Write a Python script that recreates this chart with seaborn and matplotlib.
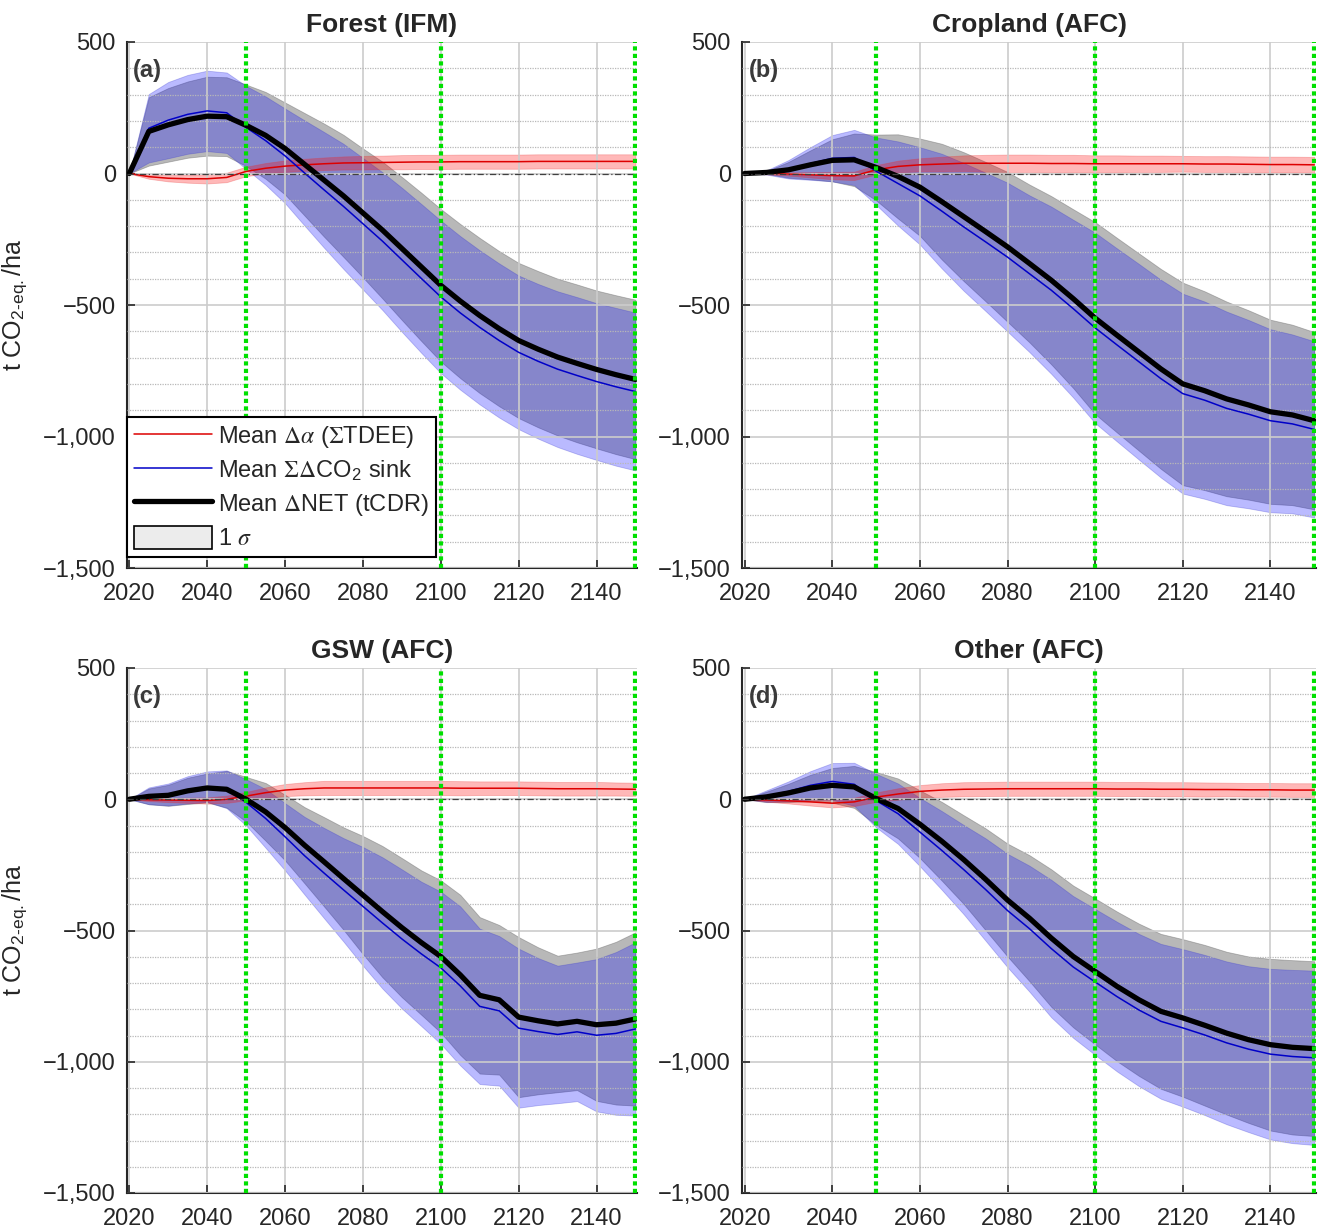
import pandas as pd
import seaborn as sns
import matplotlib.pyplot as plt
from matplotlib.lines import Line2D
from matplotlib.patches import Patch
from matplotlib.ticker import MultipleLocator, FuncFormatter

years = list(range(2020, 2151, 5))

titles = ["Forest (IFM)", "Cropland (AFC)", "GSW (AFC)", "Other (AFC)"]
tags = ["(a)", "(b)", "(c)", "(d)"]

# Forest (IFM)
forest_red = [0, -12, -18, -20, -20, -15, 8, 20, 28, 33, 37, 40, 41, 42, 43, 44, 44, 45, 45, 45, 45, 46, 46, 46, 46, 46, 46]
forest_red_sd = [0, 8, 12, 15, 18, 18, 18, 20, 22, 23, 24, 25, 26, 26, 27, 27, 27, 27, 27, 27, 27, 27, 27, 27, 27, 27, 27]
forest_blue = [0, 172, 203, 225, 238, 231, 175, 125, 67, 2, -62, -125, -191, -257, -328, -399, -469, -530, -585, -635, -680, -714, -744, -768, -791, -811, -829]
forest_blue_sd = [0, 130, 145, 150, 153, 153, 158, 168, 180, 200, 220, 238, 250, 262, 274, 283, 290, 292, 293, 293, 292, 294, 296, 298, 298, 300, 300]
forest_net = [0, 160, 185, 205, 218, 216, 183, 145, 95, 35, -25, -85, -150, -215, -285, -355, -425, -485, -540, -590, -635, -668, -698, -722, -745, -765, -783]
forest_net_sd = [0, 130, 140, 145, 150, 150, 155, 165, 175, 195, 215, 232, 245, 260, 272, 282, 290, 293, 295, 295, 295, 297, 298, 300, 300, 302, 303]

# Cropland (AFC)
crop_red = [0, 0, -2, -5, -8, -9, 14, 27, 33, 36, 39, 39, 39, 39, 38, 38, 37, 37, 37, 37, 37, 36, 36, 35, 34, 34, 33]
crop_red_sd = [0, 3, 6, 10, 14, 16, 18, 22, 25, 28, 30, 32, 33, 33, 33, 33, 32, 32, 31, 31, 30, 30, 30, 30, 30, 30, 30]
crop_blue = [0, 4, 16, 38, 58, 61, 9, -38, -85, -143, -203, -260, -318, -381, -444, -514, -587, -652, -716, -780, -837, -862, -893, -915, -940, -952, -973]
crop_blue_sd = [0, 8, 35, 62, 88, 105, 128, 160, 185, 218, 243, 263, 283, 298, 318, 338, 362, 367, 372, 376, 380, 375, 368, 358, 348, 340, 335]
crop_net = [0, 4, 14, 33, 50, 52, 23, -11, -52, -107, -164, -221, -279, -342, -406, -476, -550, -615, -679, -743, -800, -826, -857, -880, -906, -918, -940]
crop_net_sd = [0, 5, 30, 55, 80, 100, 125, 160, 185, 220, 245, 265, 285, 300, 320, 340, 365, 370, 375, 380, 385, 378, 370, 360, 350, 343, 337]

# GSW (AFC)
gsw_red = [0, -2, -3, -4, -5, 0, 12, 25, 35, 40, 43, 43, 43, 43, 43, 43, 43, 42, 42, 42, 42, 41, 40, 40, 40, 39, 38]
gsw_red_sd = [0, 5, 8, 10, 12, 14, 16, 20, 23, 25, 27, 27, 27, 27, 27, 27, 27, 27, 26, 26, 26, 26, 26, 26, 26, 25, 25]
gsw_blue = [0, 13, 18, 36, 48, 38, -12, -73, -143, -215, -281, -345, -408, -471, -532, -589, -642, -711, -789, -806, -872, -885, -896, -886, -899, -892, -875]
gsw_blue_sd = [0, 32, 42, 52, 58, 72, 88, 112, 128, 148, 172, 197, 226, 250, 265, 275, 290, 303, 296, 285, 303, 280, 262, 264, 290, 310, 330]
gsw_net = [0, 11, 15, 32, 43, 38, 0, -48, -108, -175, -238, -302, -365, -428, -489, -546, -599, -669, -747, -764, -830, -844, -856, -846, -859, -853, -837]
gsw_net_sd = [0, 30, 40, 50, 55, 70, 85, 110, 125, 145, 170, 195, 225, 250, 265, 275, 290, 305, 298, 285, 305, 280, 260, 262, 290, 310, 330]

# Other (AFC)
other_red = [0, -3, -6, -10, -15, -10, 8, 20, 30, 35, 38, 39, 40, 40, 40, 40, 40, 39, 39, 38, 38, 37, 37, 36, 36, 35, 35]
other_red_sd = [0, 6, 10, 14, 16, 16, 18, 22, 24, 26, 27, 27, 27, 27, 27, 27, 27, 27, 27, 27, 27, 27, 26, 26, 26, 26, 26]
other_blue = [0, 12, 30, 53, 68, 57, -5, -55, -125, -195, -268, -344, -424, -493, -569, -639, -696, -752, -803, -846, -871, -898, -928, -952, -971, -980, -985]
other_blue_sd = [0, 22, 38, 54, 70, 82, 102, 115, 130, 150, 170, 195, 216, 240, 262, 270, 278, 285, 290, 295, 300, 305, 310, 316, 325, 330, 332]
other_net = [0, 9, 24, 43, 53, 47, 3, -35, -95, -160, -230, -305, -384, -453, -529, -599, -656, -713, -764, -808, -833, -861, -891, -916, -935, -945, -950]
other_net_sd = [0, 20, 35, 50, 66, 80, 101, 114, 129, 150, 169, 194, 215, 240, 262, 270, 278, 285, 290, 295, 300, 306, 310, 317, 327, 332, 333]

panels = [
    (forest_red, forest_red_sd, forest_blue, forest_blue_sd, forest_net, forest_net_sd),
    (crop_red, crop_red_sd, crop_blue, crop_blue_sd, crop_net, crop_net_sd),
    (gsw_red, gsw_red_sd, gsw_blue, gsw_blue_sd, gsw_net, gsw_net_sd),
    (other_red, other_red_sd, other_blue, other_blue_sd, other_net, other_net_sd),
]

sns.set_style("ticks")
plt.rcParams["font.family"] = ["Liberation Sans", "DejaVu Sans"]
plt.rcParams["mathtext.fontset"] = "stix"

fig = plt.figure(figsize=(13.26, 12.30), dpi=100)
W, H = 1326, 1230
boxes = [(127, 42, 637, 568), (742, 42, 1316, 568),
         (127, 668, 637, 1193), (742, 668, 1316, 1193)]

fmt = FuncFormatter(lambda v, p: f"{int(v):,}".replace("-", "\u2212"))

for i, (box, data) in enumerate(zip(boxes, panels)):
    x0, y0, x1, y1 = box
    ax = fig.add_axes([x0 / W, 1 - y1 / H, (x1 - x0) / W, (y1 - y0) / H])
    red, red_sd, blue, blue_sd, net, net_sd = data
    df = pd.DataFrame({"year": years, "red": red, "red_sd": red_sd,
                       "blue": blue, "blue_sd": blue_sd,
                       "net": net, "net_sd": net_sd})

    ax.fill_between(df.year, df.net - df.net_sd, df.net + df.net_sd,
                    facecolor=(0.45, 0.45, 0.45, 0.5), edgecolor=(0.35, 0.35, 0.35, 0.4), lw=0.6, zorder=1)
    ax.fill_between(df.year, df.blue - df.blue_sd, df.blue + df.blue_sd,
                    facecolor=(0.0, 0.0, 1.0, 0.27), edgecolor=(0.2, 0.2, 0.8, 0.3), lw=0.6, zorder=1)
    ax.fill_between(df.year, df.red - df.red_sd, df.red + df.red_sd,
                    facecolor=(1.0, 0.0, 0.0, 0.28), edgecolor=(0.9, 0.2, 0.2, 0.3), lw=0.6, zorder=1)

    sns.lineplot(data=df, x="year", y="red", color="#dd0000", lw=1.1, ax=ax, zorder=3)
    sns.lineplot(data=df, x="year", y="blue", color="#0000c8", lw=1.1, ax=ax, zorder=3)
    sns.lineplot(data=df, x="year", y="net", color="black", lw=3.8, ax=ax, zorder=3)
    ax.axhline(0, color="0.25", lw=0.9, ls=(0, (5, 2, 1, 2)), zorder=3.5)

    for yr in (2050, 2100, 2150):
        ax.axvline(yr, color="#00e000", lw=3, ls=(0, (1.0, 0.8)), zorder=4)

    ax.set_xlim(2019.4, 2150.4)
    ax.set_ylim(-1500, 500)
    ax.xaxis.set_major_locator(MultipleLocator(20))
    ax.yaxis.set_major_locator(MultipleLocator(500))
    ax.yaxis.set_minor_locator(MultipleLocator(100))
    ax.yaxis.set_major_formatter(fmt)
    ax.set_axisbelow(False)
    ax.grid(which="major", color="0.8", lw=1.2, ls="-")
    ax.grid(which="minor", axis="y", color="0.72", lw=0.9, ls=(0, (1, 1)))
    ax.tick_params(which="major", direction="in", length=6, width=1.2,
                   labelsize=17, pad=8, colors="0.15")
    ax.tick_params(axis="x", which="major", pad=11)
    ax.tick_params(which="minor", length=0)
    for s in ("top", "right"):
        ax.spines[s].set_visible(False)
    for s in ("left", "bottom"):
        ax.spines[s].set_linewidth(1.5)
        ax.spines[s].set_color("0.15")

    ax.set_title(titles[i], fontsize=19, fontweight="bold", pad=7)
    ax.text(0.012, 0.945, tags[i], transform=ax.transAxes, fontsize=17,
            fontweight="bold", color="#3a3a3a", va="center", ha="left", zorder=5)
    ax.set_xlabel("")
    if i % 2 == 0:
        ax.set_ylabel("t CO$_{\\mathregular{2\u2010eq.}}$/ha", fontsize=18, labelpad=10)
    else:
        ax.set_ylabel("")

    if i == 0:
        handles = [
            Line2D([], [], color="#dd0000", lw=1.1),
            Line2D([], [], color="#0000c8", lw=1.1),
            Line2D([], [], color="black", lw=3.8),
            Patch(facecolor="#ececec", edgecolor="black", lw=1.2),
        ]
        labels = [r"Mean $\Delta\alpha$ ($\Sigma$TDEE)",
                  r"Mean $\Sigma\Delta$CO$_{\mathregular{2}}$ sink",
                  r"Mean $\Delta$NET (tCDR)",
                  r"1 $\sigma$"]
        leg = ax.legend(handles, labels, loc="lower left", bbox_to_anchor=(0.0, 0.02),
                        borderaxespad=0, fontsize=17, handlelength=3.3, handleheight=1.1,
                        handletextpad=0.25, labelspacing=0.35, borderpad=0.3,
                        frameon=True, fancybox=False, framealpha=1)
        leg.get_frame().set_edgecolor("black")
        leg.get_frame().set_linewidth(1.5)
        leg.set_zorder(6)

fig.savefig("out.png", dpi=100)
